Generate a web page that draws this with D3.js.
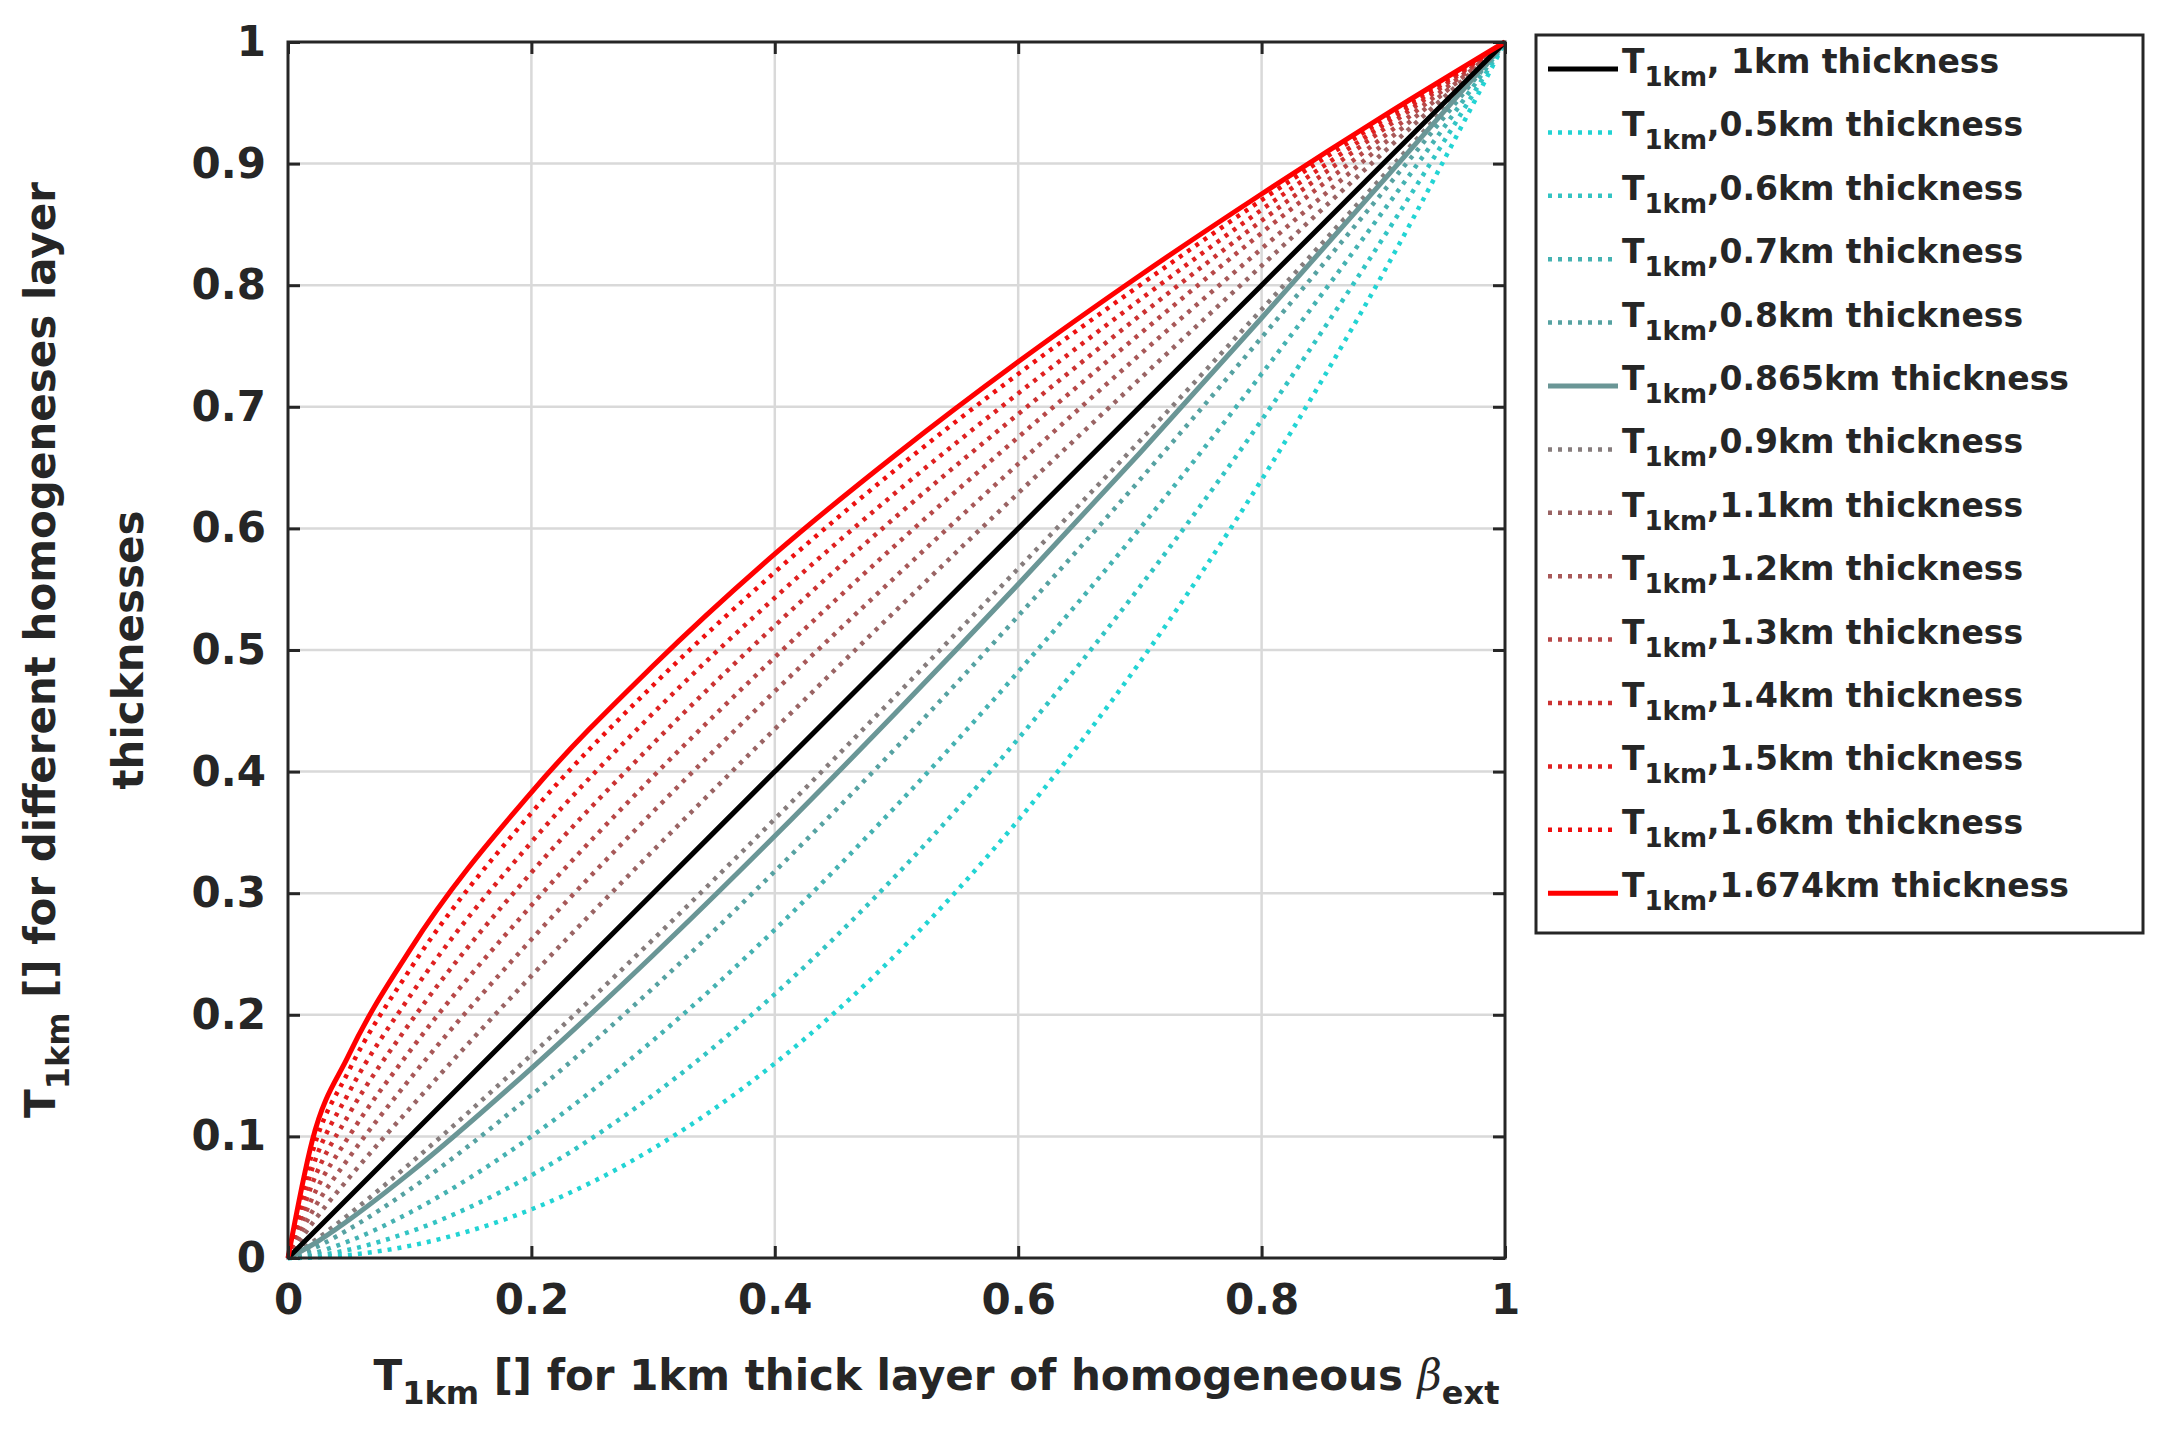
<!DOCTYPE html>
<html><head><meta charset="utf-8">
<script src="https://cdn.jsdelivr.net/npm/d3@7"></script>
<style>
body{margin:0;background:#fff}
text{font-family:"DejaVu Sans",Verdana,sans-serif;font-weight:bold;fill:#262626}
</style></head>
<body><svg id="chart" width="2167" height="1437"></svg>
<script>
// x positions where curves were read
const xs = [0, 0.02, 0.05, 0.1, 0.2, 0.3, 0.4, 0.5, 0.6, 0.7, 0.8, 0.9, 1]

const thicknessLabels = ["1km", "0.5km", "0.6km", "0.7km", "0.8km", "0.865km", "0.9km",
  "1.1km", "1.2km", "1.3km", "1.4km", "1.5km", "1.6km", "1.674km"]
const seriesColors = ["#000000", "#22d4d4", "#33c4c4", "#45b2b2", "#56a2a2", "#6a9696", "#867c7c",
  "#9a6464", "#a85858", "#b84848", "#cc3232", "#e02020", "#ee1010", "#ff0000"]
const seriesSolid = [true, false, false, false, false, true, false,
  false, false, false, false, false, false, true]

// y values at xs
const yT10 = [0, 0.02, 0.05, 0.1, 0.2, 0.3, 0.4, 0.5, 0.6, 0.7, 0.8, 0.9, 1]
const yT05 = [0, 0.0004, 0.0025, 0.01, 0.04, 0.09, 0.16, 0.25, 0.36, 0.49, 0.64, 0.81, 1]
const yT06 = [0, 0.0015, 0.0068, 0.0215, 0.068, 0.134, 0.217, 0.315, 0.427, 0.552, 0.689, 0.839, 1]
const yT07 = [0, 0.0037, 0.0138, 0.0373, 0.100, 0.179, 0.270, 0.372, 0.482, 0.600, 0.727, 0.861, 1]
const yT08 = [0, 0.0075, 0.0236, 0.0562, 0.134, 0.222, 0.318, 0.420, 0.528, 0.640, 0.757, 0.877, 1]
const yT0865 = [0, 0.0109, 0.0313, 0.0698, 0.156, 0.249, 0.347, 0.449, 0.554, 0.662, 0.773, 0.886, 1]
const yT09 = [0, 0.0130, 0.0358, 0.0774, 0.167, 0.262, 0.361, 0.463, 0.567, 0.672, 0.780, 0.890, 1]
const yT11 = [0, 0.0286, 0.0657, 0.123, 0.232, 0.335, 0.435, 0.533, 0.629, 0.723, 0.816, 0.909, 1]
const yT12 = [0, 0.0384, 0.0823, 0.147, 0.262, 0.367, 0.466, 0.561, 0.653, 0.743, 0.830, 0.916, 1]
const yT13 = [0, 0.0494, 0.0999, 0.170, 0.290, 0.396, 0.494, 0.587, 0.675, 0.760, 0.843, 0.922, 1]
const yT14 = [0, 0.0612, 0.118, 0.193, 0.317, 0.423, 0.520, 0.610, 0.694, 0.775, 0.853, 0.928, 1]
const yT15 = [0, 0.0737, 0.136, 0.215, 0.342, 0.448, 0.543, 0.630, 0.711, 0.788, 0.862, 0.932, 1]
const yT16 = [0, 0.0867, 0.154, 0.237, 0.366, 0.471, 0.564, 0.649, 0.727, 0.800, 0.870, 0.936, 1]
const yT1674 = [0, 0.0968, 0.167, 0.253, 0.383, 0.487, 0.579, 0.661, 0.737, 0.808, 0.875, 0.939, 1]

const seriesValues = [yT10, yT05, yT06, yT07, yT08, yT0865, yT09, yT11, yT12, yT13, yT14, yT15, yT16, yT1674]
const tickValues = [0, 0.1, 0.2, 0.3, 0.4, 0.5, 0.6, 0.7, 0.8, 0.9, 1]
const xTickValues = [0, 0.2, 0.4, 0.6, 0.8, 1]

const svg = d3.select("#chart")
const mLeft = 288, mRight = 1505, mTop = 42, mBottom = 1258
const x = d3.scaleLinear().domain([0, 1]).range([mLeft, mRight])
const y = d3.scaleLinear().domain([0, 1]).range([mBottom, mTop])

// grid
svg.append("g").selectAll("line").data(xTickValues.slice(1, -1)).join("line")
  .attr("x1", d => x(d)).attr("x2", d => x(d)).attr("y1", mTop).attr("y2", mBottom)
  .attr("stroke", "#d9d9d9").attr("stroke-width", 2.5)
svg.append("g").selectAll("line").data(tickValues.slice(1, -1)).join("line")
  .attr("y1", d => y(d)).attr("y2", d => y(d)).attr("x1", mLeft).attr("x2", mRight)
  .attr("stroke", "#d9d9d9").attr("stroke-width", 2.5)

// curves, cyan first, black and red on top
const line = d3.line().x((d, i) => x(xs[i])).y(d => y(d)).curve(d3.curveMonotoneX)
const order = [1, 2, 3, 4, 6, 7, 8, 9, 10, 11, 12, 5, 0, 13]
order.forEach(i => {
  svg.append("path").attr("d", line(seriesValues[i])).attr("fill", "none")
    .attr("stroke", seriesColors[i]).attr("stroke-width", seriesSolid[i] ? 5 : 4.5)
    .attr("stroke-dasharray", seriesSolid[i] ? null : "4,6")
})

// axes box
svg.append("rect").attr("x", mLeft).attr("y", mTop).attr("width", mRight - mLeft).attr("height", mBottom - mTop)
  .attr("fill", "none").attr("stroke", "#262626").attr("stroke-width", 3)

const xAxis = d3.axisBottom(x).tickValues(xTickValues).tickFormat(d3.format("~g")).tickSize(-12).tickPadding(26)
const yAxis = d3.axisLeft(y).tickValues(tickValues).tickFormat(d3.format("~g")).tickSize(-12).tickPadding(22)
const gx = svg.append("g").attr("transform", `translate(0,${mBottom})`).call(xAxis)
const gy = svg.append("g").attr("transform", `translate(${mLeft},0)`).call(yAxis)
;[gx, gy].forEach(g => {
  g.select(".domain").remove()
  g.selectAll("line").attr("stroke", "#262626").attr("stroke-width", 3)
  g.selectAll("text").style("font-size", "42px").attr("fill", "#262626")
})
svg.append("g").attr("transform", `translate(0,${mTop})`).call(d3.axisTop(x).tickValues(xTickValues).tickSize(-12).tickFormat(""))
  .call(g => { g.select(".domain").remove(); g.selectAll("line").attr("stroke", "#262626").attr("stroke-width", 3) })
svg.append("g").attr("transform", `translate(${mRight},0)`).call(d3.axisRight(y).tickValues(tickValues).tickSize(-12).tickFormat(""))
  .call(g => { g.select(".domain").remove(); g.selectAll("line").attr("stroke", "#262626").attr("stroke-width", 3) })

// x label
const xl = svg.append("text").attr("x", (mLeft + mRight) / 2 + 40).attr("y", 1390)
  .attr("text-anchor", "middle").style("font-size", "42px")
xl.append("tspan").text("T")
xl.append("tspan").attr("dy", 14).style("font-size", "32px").text("1km")
xl.append("tspan").attr("dy", -14).text(" [] for 1km thick layer of homogeneous ")
xl.append("tspan").style("font-family", "'DejaVu Serif',serif").style("font-style", "italic").style("font-weight", "normal").text("β")
xl.append("tspan").attr("dy", 14).style("font-size", "32px").text("ext")

// y label, two lines
const yl = svg.append("g").attr("transform", `translate(55,${(mTop + mBottom) / 2}) rotate(-90)`)
const yt = yl.append("text").attr("text-anchor", "middle").style("font-size", "42px")
yt.append("tspan").text("T")
yt.append("tspan").attr("dy", 14).style("font-size", "32px").text("1km")
yt.append("tspan").attr("dy", -14).text(" [] for different homogeneses layer")
yl.append("text").attr("y", 88).attr("text-anchor", "middle").style("font-size", "42px").text("thicknesses")

// legend
const lx = 1536, ly = 35, rowH = 63.4
svg.append("rect").attr("x", lx).attr("y", ly).attr("width", 607).attr("height", 898)
  .attr("fill", "#fff").attr("stroke", "#262626").attr("stroke-width", 3)
const items = svg.append("g").selectAll("g").data(thicknessLabels).join("g")
  .attr("transform", (d, i) => `translate(${lx},${ly + 34 + i * rowH})`)
items.append("line").attr("x1", 12).attr("x2", 82)
  .attr("stroke", (d, i) => seriesColors[i]).attr("stroke-width", (d, i) => seriesSolid[i] ? 5 : 4.5)
  .attr("stroke-dasharray", (d, i) => seriesSolid[i] ? null : "4,6")
const lt = items.append("text").attr("x", 86).attr("y", 4).style("font-size", "33px")
lt.append("tspan").text("T")
lt.append("tspan").attr("dy", 13).style("font-size", "26px").text("1km")
lt.append("tspan").attr("dy", -13).text((d, i) => i === 0 ? ", " + d + " thickness" : "," + d + " thickness")
</script></body></html>
